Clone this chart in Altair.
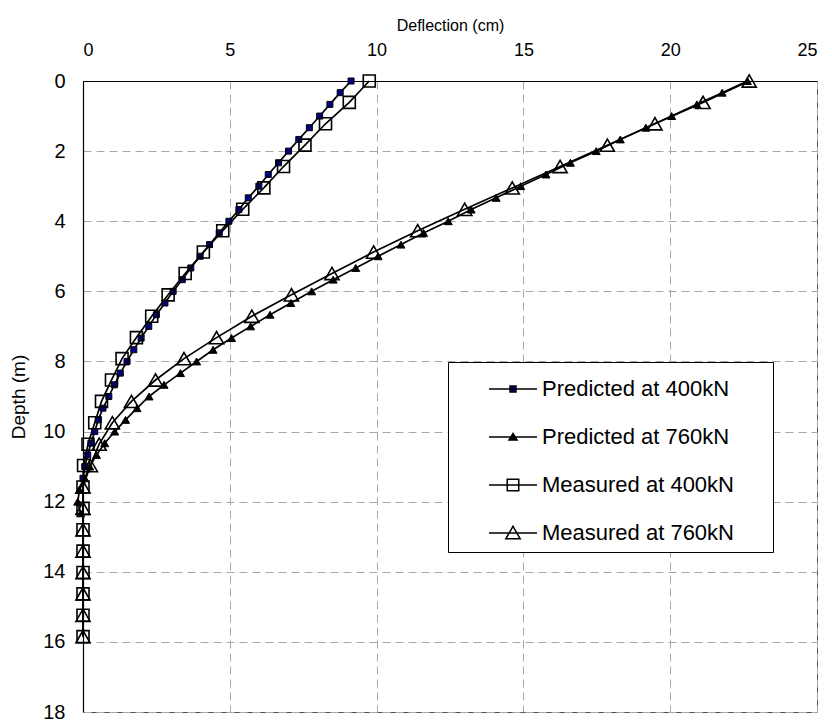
import altair as alt
import pandas as pd

# ---------------- data ----------------
SERIES = ["Predicted at 400kN", "Predicted at 760kN", "Measured at 400kN", "Measured at 760kN"]

pred400_depth = [0.0, 0.333, 0.667, 1.0, 1.333, 1.667, 2.0, 2.333, 2.667, 3.0, 3.333, 3.667,
                 4.0, 4.333, 4.667, 5.0, 5.333, 5.667, 6.0, 6.333, 6.667, 7.0, 7.333, 7.667,
                 8.0, 8.333, 8.667, 9.0, 9.333, 9.667, 10.0, 10.333, 10.667, 11.0, 11.333]
pred400_defl = [9.13, 8.76, 8.41, 8.06, 7.71, 7.35, 7.00, 6.66, 6.31, 5.99, 5.63, 5.31,
                4.97, 4.64, 4.31, 3.99, 3.67, 3.38, 3.07, 2.79, 2.50, 2.24, 1.98, 1.73,
                1.50, 1.27, 1.07, 0.88, 0.68, 0.52, 0.40, 0.27, 0.16, 0.06, 0.0]

pred760_depth = [0.0, 0.333, 0.667, 1.0, 1.333, 1.667, 2.0, 2.333, 2.667, 3.0, 3.333, 3.667,
                 4.0, 4.333, 4.667, 5.0, 5.333, 5.667, 6.0, 6.333, 6.667, 7.0, 7.333, 7.667,
                 8.0, 8.333, 8.667, 9.0, 9.333, 9.667, 10.0, 10.333, 10.667, 11.0, 11.333,
                 11.667, 12.0, 12.333]
pred760_defl = [22.63, 21.77, 20.91, 20.05, 19.17, 18.30, 17.48, 16.60, 15.77, 14.91, 14.07, 13.22,
                12.44, 11.60, 10.83, 10.05, 9.29, 8.52, 7.79, 7.08, 6.37, 5.71, 5.06, 4.43,
                3.87, 3.32, 2.76, 2.25, 1.84, 1.45, 1.08, 0.74, 0.46, 0.23, 0.06,
                -0.12, -0.18, -0.08]

meas_depth = [0.0, 0.61, 1.22, 1.83, 2.44, 3.05, 3.66, 4.27, 4.88, 5.49, 6.10, 6.71, 7.32,
              7.92, 8.53, 9.14, 9.75, 10.36, 10.97, 11.58, 12.19, 12.80, 13.41, 14.02,
              14.63, 15.24, 15.85]
meas400_defl = [9.75, 9.07, 8.26, 7.56, 6.83, 6.16, 5.44, 4.76, 4.10, 3.48, 2.90, 2.34, 1.82,
                1.33, 0.97, 0.63, 0.40, 0.17, 0.02, 0.0, 0.0, 0.0, 0.0, 0.0,
                0.0, 0.0, 0.0]
meas760_defl = [22.69, 21.12, 19.48, 17.86, 16.25, 14.62, 13.00, 11.40, 9.90, 8.48, 7.10, 5.75, 4.55,
                3.44, 2.47, 1.65, 1.00, 0.55, 0.25, 0.0, 0.0, 0.0, 0.0, 0.0,
                0.0, 0.0, 0.0]

x_ticks = [0, 5, 10, 15, 20, 25]
y_ticks = [0, 2, 4, 6, 8, 10, 12, 14, 16, 18]


def frame(depth, defl, name):
    return pd.DataFrame({"depth": depth, "defl": defl, "series": name,
                         "idx": list(range(len(depth)))})


frames = {
    SERIES[0]: frame(pred400_depth, pred400_defl, SERIES[0]),
    SERIES[1]: frame(pred760_depth, pred760_defl, SERIES[1]),
    SERIES[2]: frame(meas_depth, meas400_defl, SERIES[2]),
    SERIES[3]: frame(meas_depth, meas760_defl, SERIES[3]),
}
all_df = pd.concat(list(frames.values()), ignore_index=True)

# ---------------- encodings ----------------
X = alt.X("defl:Q",
          scale=alt.Scale(domain=[0, 25], nice=False, zero=False),
          axis=alt.Axis(orient="top", values=x_ticks, title="Deflection (cm)",
                        labelFont="Liberation Sans", labelFontSize=18,
                        labelPadding=22, titleFont="Liberation Sans",
                        titleFontSize=16, titlePadding=8))
Y = alt.Y("depth:Q",
          scale=alt.Scale(domain=[0, 18], reverse=True, nice=False, zero=False),
          axis=alt.Axis(orient="left", values=y_ticks, title="Depth (m)",
                        labelFont="Liberation Sans", labelFontSize=20, labelPadding=18,
                        titleFont="Liberation Sans", titleFontSize=19, titlePadding=14))

marker_style = {
    SERIES[0]: dict(shape="square", size=36, filled=True, fill="#000080", stroke="black", strokeWidth=1),
    SERIES[1]: dict(shape="triangle-up", size=64, filled=True, fill="black", stroke="black", strokeWidth=1),
    SERIES[2]: dict(shape="square", size=144, filled=False, stroke="black", strokeWidth=1.6),
    SERIES[3]: dict(shape="triangle-up", size=200, filled=False, stroke="black", strokeWidth=1.6),
}

layers = []
for name in SERIES:
    base = alt.Chart(frames[name])
    layers.append(base.mark_line(color="black", strokeWidth=1.7).encode(x=X, y=Y, order="idx:Q"))
    layers.append(base.mark_point(opacity=1, **marker_style[name]).encode(x=X, y=Y))

# legend-only layer (no visible marks): symbols are "line + marker" glyphs
legend_paths = [
    "M0,0.55M-1,0H1M-0.125,-0.125H0.125V0.125H-0.125Z",
    "M0,0.55M-1,0H1M0,-0.15L0.17,0.13L-0.17,0.13Z",
    "M0,0.55M-1,0H1M-0.24,-0.24H0.24V0.24H-0.24Z",
    "M0,0.55M-1,0H1M0,-0.28L0.3,0.24L-0.3,0.24Z",
]
legend_fills = ["#000080", "black", "transparent", "transparent"]
legend_strokes = ["black", "black", "black", "black"]
blank = "\u2009\u2800\u2800"
leg = alt.Legend(title=None, orient="none", legendX=365, legendY=281,
                 fillColor="white", strokeColor="black", padding=2,
                 symbolSize=2304, symbolStrokeColor="black", symbolStrokeWidth=1.5,
                 symbolOffset=38, labelOffset=4, rowPadding=6, symbolOpacity=1,
                 labelFont="Liberation Sans", labelFontSize=22, labelColor="black",
                 labelLimit=400, labelExpr="datum.label + '" + blank + "'")
legend_layer = alt.Chart(all_df).transform_filter("false").mark_point(
    opacity=1, filled=True, strokeWidth=1.5).encode(
    x=X, y=Y,
    shape=alt.Shape("series:N", scale=alt.Scale(domain=SERIES, range=legend_paths), legend=leg),
    fill=alt.Fill("series:N", scale=alt.Scale(domain=SERIES, range=legend_fills), legend=leg),
    stroke=alt.Stroke("series:N", scale=alt.Scale(domain=SERIES, range=legend_strokes), legend=leg),
)
layers.append(legend_layer)

chart = alt.layer(*layers).properties(
    width=734, height=631,
    autosize=alt.AutoSizeParams(type="none"),
    padding={"left": 83, "top": 81, "right": 15, "bottom": 13},
    background="white",
).configure_view(
    stroke="#505050", strokeWidth=1
).configure_axis(
    grid=True, gridColor="#a8a8a8", gridDash=[8, 5], gridWidth=1,
    domainColor="black", domainWidth=1.2, ticks=False,
    labelColor="black", titleColor="black", titleFontWeight="normal",
)

chart.save("out.html", embed_options={"renderer": "svg", "actions": False})
